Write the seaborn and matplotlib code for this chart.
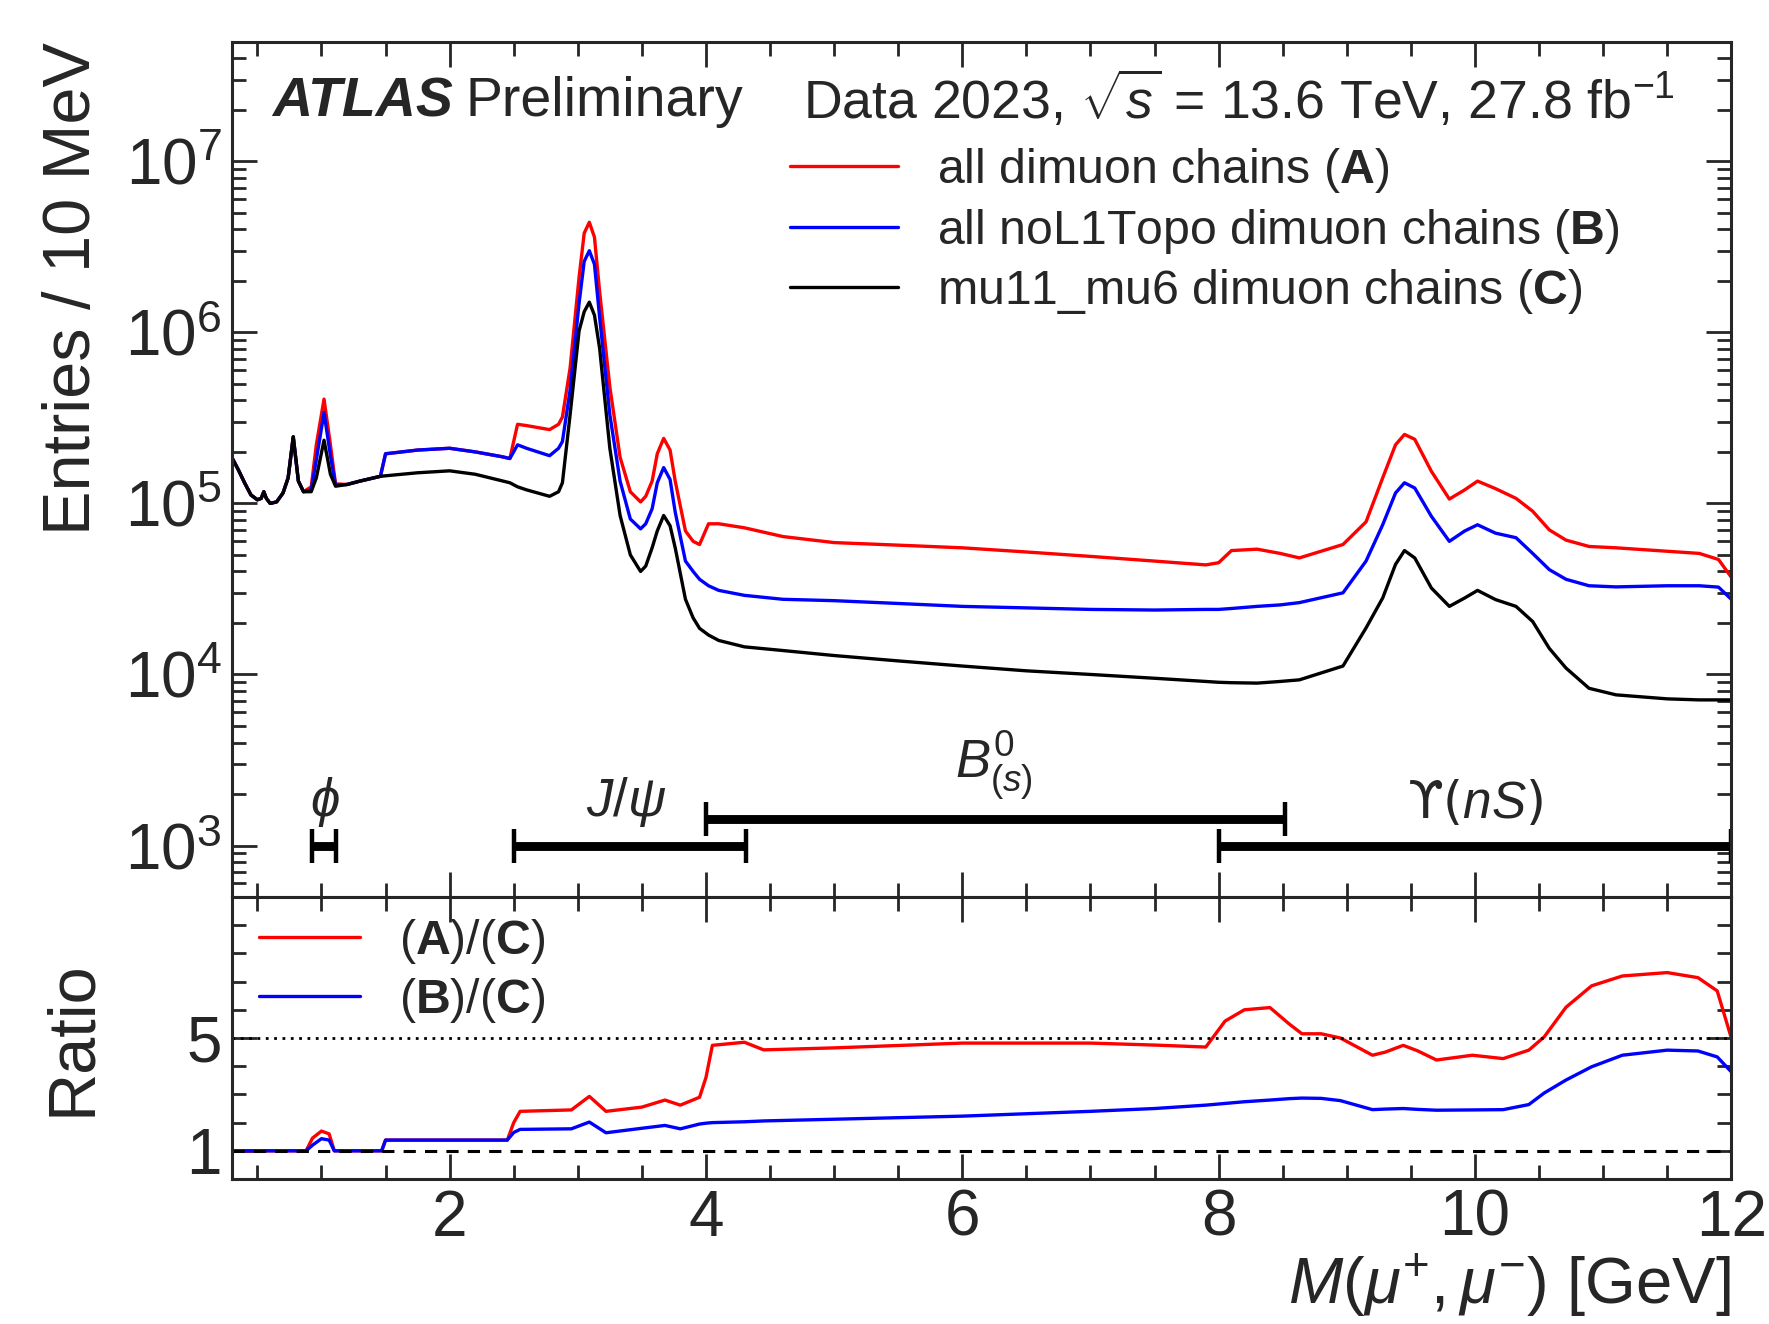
import matplotlib
matplotlib.use("Agg")
import matplotlib.pyplot as plt
import seaborn as sns
import numpy as np
import pandas as pd
from matplotlib.ticker import MultipleLocator, LogLocator, NullFormatter, FixedLocator

# dimuon mass [GeV] and entries / 10 MeV
mass = [0.30, 0.35, 0.40, 0.45, 0.50, 0.53, 0.55, 0.57, 0.60, 0.65,
        0.70, 0.74, 0.78, 0.82, 0.86, 0.92, 0.96, 1.02, 1.07, 1.11,
        1.20, 1.30, 1.46, 1.50, 1.75, 2.00, 2.20, 2.40, 2.47, 2.53, 2.60,
        2.78, 2.85, 2.88, 2.94, 3.01, 3.05, 3.09, 3.13, 3.17, 3.25, 3.33,
        3.41, 3.49, 3.53, 3.58, 3.62, 3.67, 3.72, 3.76, 3.84, 3.90, 3.95,
        4.02, 4.10, 4.30, 4.60, 5.00, 5.50, 6.00, 6.50, 7.00, 7.50, 7.90,
        8.00, 8.10, 8.30, 8.48, 8.63, 8.97,
        9.15, 9.28, 9.38, 9.45, 9.53, 9.66, 9.80, 9.92, 10.02, 10.16,
        10.32, 10.45, 10.58, 10.71, 10.89, 11.10,
        11.50, 11.75, 11.90, 12.00]

all_chains = [1.86e5, 1.58e5, 1.32e5, 1.12e5, 1.05e5, 1.07e5, 1.17e5, 1.07e5, 1.0e5, 1.02e5,
              1.15e5, 1.41e5, 2.45e5, 1.35e5, 1.17e5, 1.25e5, 2.2e5, 4.07e5, 2.2e5, 1.3e5,
              1.29e5, 1.35e5, 1.44e5, 1.95e5, 2.05e5, 2.1e5, 2.0e5, 1.88e5, 1.83e5, 2.9e5, 2.85e5,
              2.7e5, 2.9e5, 3.2e5, 6.2e5, 2.1e6, 3.8e6, 4.4e6, 3.6e6, 1.74e6, 4.8e5, 1.86e5,
              1.17e5, 1.02e5, 1.1e5, 1.35e5, 1.95e5, 2.4e5, 2.05e5, 1.35e5, 6.9e4, 6.0e4, 5.75e4,
              7.6e4, 7.6e4, 7.2e4, 6.4e4, 5.9e4, 5.7e4, 5.5e4, 5.2e4, 4.9e4, 4.6e4, 4.37e4,
              4.5e4, 5.3e4, 5.4e4, 5.1e4, 4.8e4, 5.75e4,
              7.8e4, 1.41e5, 2.2e5, 2.53e5, 2.37e5, 1.54e5, 1.06e5, 1.2e5, 1.35e5, 1.22e5,
              1.07e5, 9.0e4, 7.0e4, 6.1e4, 5.6e4, 5.5e4,
              5.25e4, 5.1e4, 4.7e4, 3.7e4]

nol1topo = [1.86e5, 1.58e5, 1.32e5, 1.12e5, 1.05e5, 1.07e5, 1.17e5, 1.07e5, 1.0e5, 1.02e5,
            1.15e5, 1.41e5, 2.45e5, 1.35e5, 1.17e5, 1.2e5, 1.8e5, 3.4e5, 1.9e5, 1.28e5,
            1.29e5, 1.35e5, 1.44e5, 1.95e5, 2.05e5, 2.1e5, 2.0e5, 1.88e5, 1.83e5, 2.2e5, 2.1e5,
            1.9e5, 2.1e5, 2.3e5, 4.6e5, 1.48e6, 2.6e6, 3.0e6, 2.5e6, 1.23e6, 3.3e5, 1.35e5,
            8.1e4, 7.1e4, 7.6e4, 9.3e4, 1.32e5, 1.62e5, 1.38e5, 8.9e4, 4.6e4, 4.0e4, 3.6e4,
            3.3e4, 3.1e4, 2.9e4, 2.75e4, 2.7e4, 2.6e4, 2.5e4, 2.45e4, 2.4e4, 2.38e4, 2.4e4,
            2.4e4, 2.43e4, 2.5e4, 2.55e4, 2.63e4, 3.0e4,
            4.6e4, 7.5e4, 1.15e5, 1.32e5, 1.23e5, 8.4e4, 6.0e4, 6.9e4, 7.5e4, 6.7e4,
            6.3e4, 5.1e4, 4.1e4, 3.6e4, 3.3e4, 3.25e4,
            3.3e4, 3.3e4, 3.24e4, 2.75e4]

mu11_mu6 = [1.86e5, 1.58e5, 1.32e5, 1.12e5, 1.05e5, 1.07e5, 1.17e5, 1.07e5, 1.0e5, 1.02e5,
            1.15e5, 1.41e5, 2.45e5, 1.35e5, 1.17e5, 1.17e5, 1.41e5, 2.34e5, 1.48e5, 1.26e5,
            1.29e5, 1.35e5, 1.44e5, 1.45e5, 1.51e5, 1.55e5, 1.48e5, 1.36e5, 1.32e5, 1.25e5, 1.2e5,
            1.10e5, 1.17e5, 1.32e5, 3.3e5, 1.02e6, 1.32e6, 1.5e6, 1.26e6, 8.1e5, 2.1e5, 8.5e4,
            5.0e4, 4.0e4, 4.3e4, 5.5e4, 6.9e4, 8.5e4, 7.4e4, 5.5e4, 2.75e4, 2.14e4, 1.86e4,
            1.7e4, 1.58e4, 1.45e4, 1.38e4, 1.29e4, 1.2e4, 1.12e4, 1.05e4, 1.0e4, 9.5e3, 9.1e3,
            9.0e3, 8.95e3, 8.9e3, 9.1e3, 9.3e3, 1.12e4,
            1.87e4, 2.8e4, 4.4e4, 5.3e4, 4.8e4, 3.2e4, 2.5e4, 2.8e4, 3.1e4, 2.74e4,
            2.5e4, 2.04e4, 1.42e4, 1.09e4, 8.3e3, 7.6e3,
            7.2e3, 7.1e3, 7.1e3, 7.1e3]

# ratios to the mu11_mu6 chains
ratio_mass = [0.30, 0.88, 0.93, 1.00, 1.06, 1.10, 1.47, 1.50, 2.45, 2.50, 2.55, 2.95,
              3.09, 3.22, 3.50, 3.68, 3.80, 3.95, 4.00, 4.05, 4.30, 4.45, 5.00, 6.00,
              7.00, 7.50, 7.90, 8.05, 8.20, 8.40, 8.55, 8.65, 8.80, 8.95, 9.20, 9.30,
              9.44, 9.55, 9.70, 9.98, 10.22, 10.42, 10.54, 10.71, 10.91, 11.15, 11.50,
              11.74, 11.89, 12.00]
ratio_a = [1.0, 1.0, 1.45, 1.7, 1.6, 1.0, 1.0, 1.38, 1.38, 2.0, 2.4, 2.45,
           2.93, 2.4, 2.55, 2.8, 2.62, 2.9, 3.6, 4.74, 4.85, 4.58, 4.65, 4.82,
           4.82, 4.75, 4.68, 5.6, 6.0, 6.08, 5.5, 5.15, 5.15, 5.0, 4.39, 4.5,
           4.74, 4.55, 4.22, 4.39, 4.27, 4.57, 5.04, 6.09, 6.85, 7.2, 7.32,
           7.14, 6.67, 5.0]
ratio_b = [1.0, 1.0, 1.2, 1.43, 1.38, 1.0, 1.0, 1.38, 1.38, 1.65, 1.76, 1.78,
           2.02, 1.64, 1.8, 1.9, 1.78, 1.95, 1.98, 2.0, 2.03, 2.06, 2.12, 2.23,
           2.4, 2.5, 2.62, 2.68, 2.74, 2.8, 2.85, 2.87, 2.86, 2.78, 2.46, 2.48,
           2.5, 2.47, 2.44, 2.45, 2.46, 2.64, 3.05, 3.51, 3.98, 4.39, 4.57,
           4.54, 4.33, 3.8]

# resonance mass windows
window_names = ["$\\phi$", "$J/\\psi$", "$B^{0}_{(s)}$", "\u03d2($nS$)"]
window_lo = [0.93, 2.5, 4.0, 8.0]
window_hi = [1.11, 4.31, 8.52, 12.0]
window_level = [1000, 1000, 1420, 1000]

sns.set_theme(style="ticks")
plt.rcParams["font.family"] = ["Liberation Sans", "DejaVu Sans"]
plt.rcParams["mathtext.fontset"] = "custom"
plt.rcParams["mathtext.rm"] = "Liberation Sans"
plt.rcParams["mathtext.it"] = "Liberation Sans:italic"
plt.rcParams["mathtext.bf"] = "Liberation Sans:bold"

df = pd.DataFrame({"mass": mass, "A": all_chains, "B": nol1topo, "C": mu11_mu6})
rdf = pd.DataFrame({"mass": ratio_mass, "AC": ratio_a, "BC": ratio_b})

fig = plt.figure(figsize=(8.845, 6.62), dpi=200)
ax = fig.add_axes([0.131, 0.3225, 0.8477, 0.646])
rax = fig.add_axes([0.131, 0.1095, 0.8477, 0.213], sharex=ax)

lw = 1.2
sns.lineplot(data=df, x="mass", y="A", ax=ax, color="red", lw=lw,
             label="all dimuon chains ($\\mathbf{A}$)")
sns.lineplot(data=df, x="mass", y="B", ax=ax, color="blue", lw=lw,
             label="all noL1Topo dimuon chains ($\\mathbf{B}$)")
sns.lineplot(data=df, x="mass", y="C", ax=ax, color="black", lw=lw,
             label="mu11_mu6 dimuon chains ($\\mathbf{C}$)")
ax.set_yscale("log")
ax.set_xlim(0.3, 12)
ax.set_ylim(500, 5e7)

# resonance windows
for name, lo, hi, lev in zip(window_names, window_lo, window_hi, window_level):
    ax.errorbar((lo + hi) / 2, lev, xerr=(hi - lo) / 2, fmt="none", ecolor="black",
                elinewidth=3.2, capsize=6, capthick=1.6)
ax.text(1.03, 1250, window_names[0], ha="center", va="bottom", fontsize=19)
ax.text(3.38, 1250, window_names[1], ha="center", va="bottom", fontsize=19)
ax.text(6.25, 1800, window_names[2], ha="center", va="bottom", fontsize=19)
ax.text(10.0, 1250, window_names[3], ha="center", va="bottom", fontsize=18.5,
        family="DejaVu Sans")

ax.text(0.027, 0.913, "ATLAS", transform=ax.transAxes, fontsize=20,
        fontweight="bold", style="italic", va="baseline")
ax.text(0.156, 0.913, "Preliminary", transform=ax.transAxes, fontsize=20, va="baseline")
ax.text(0.381, 0.910, "Data 2023, $\\sqrt{s}$ = 13.6 TeV, 27.8 fb$^{-1}$",
        transform=ax.transAxes, fontsize=19.3, va="baseline")

ax.legend(loc="upper left", bbox_to_anchor=(0.372, 0.878), frameon=False,
          fontsize=17.4, handlelength=2.25, handletextpad=0.8, labelspacing=0.24,
          borderpad=0, borderaxespad=0)

ax.set_ylabel("Entries / 10 MeV", loc="top", fontsize=24)
ax.set_xlabel("")
ax.yaxis.set_major_locator(LogLocator(base=10, numticks=15))
ax.yaxis.set_minor_locator(LogLocator(base=10, subs=np.arange(2, 10), numticks=15))
ax.yaxis.set_minor_formatter(NullFormatter())
ax.tick_params(labelbottom=False)

# ratio panel
sns.lineplot(data=rdf, x="mass", y="AC", ax=rax, color="red", lw=lw, label="($\\mathbf{A}$)/($\\mathbf{C}$)")
sns.lineplot(data=rdf, x="mass", y="BC", ax=rax, color="blue", lw=lw, label="($\\mathbf{B}$)/($\\mathbf{C}$)")
rax.axhline(5, color="black", ls=(0, (1, 2)), lw=1.0)
rax.axhline(1, color="black", ls=(0, (4, 3)), lw=1.1)
rax.set_ylim(0, 10)
rax.yaxis.set_major_locator(FixedLocator([1, 5]))
rax.yaxis.set_minor_locator(MultipleLocator(1))
rax.xaxis.set_major_locator(MultipleLocator(2))
rax.xaxis.set_minor_locator(MultipleLocator(0.5))
rax.legend(loc="upper left", bbox_to_anchor=(0.018, 0.93), frameon=False,
           fontsize=17.4, handlelength=2.1, handletextpad=0.8, labelspacing=0.22,
           borderpad=0, borderaxespad=0)
rax.set_ylabel("Ratio", fontsize=24)
rax.set_xlabel("$M(\\mu^{+}, \\mu^{-})$ [GeV]", loc="right", fontsize=23.5, labelpad=1)

for a in (ax, rax):
    a.tick_params(which="both", direction="in", top=True, right=True, labelsize=23,
                  width=1.0)
    a.tick_params(which="major", length=9)
    a.tick_params(which="minor", length=5)
    for s in a.spines.values():
        s.set_linewidth(1.1)
ax.yaxis.set_label_coords(-0.085, 1.0)
rax.yaxis.set_label_coords(-0.085, 0.5)

fig.savefig("out.png", dpi=200)
